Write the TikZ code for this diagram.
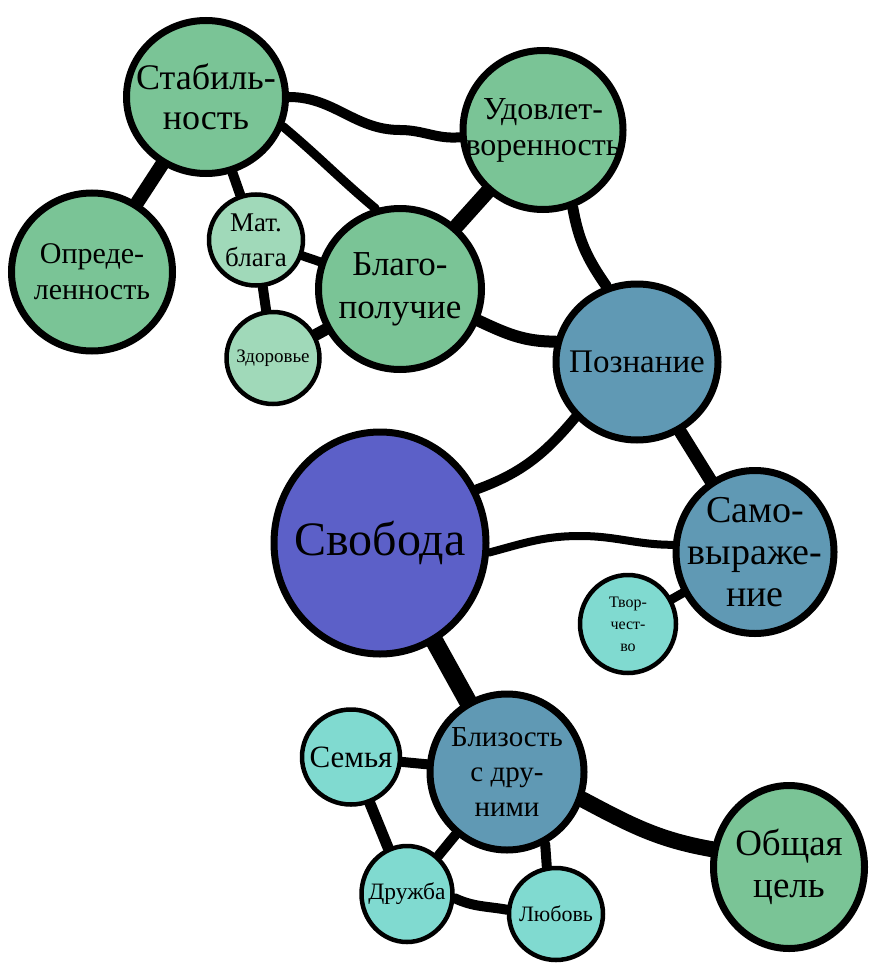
\documentclass[tikz,border=0pt]{standalone}
\usepackage{fontspec}
\setmainfont{Liberation Serif}
\usetikzlibrary{shapes.geometric,backgrounds}

\definecolor{bgreen}{RGB}{122,196,150}
\definecolor{lgreen}{RGB}{160,217,185}
\definecolor{steel}{RGB}{96,153,180}
\definecolor{violet}{RGB}{92,96,200}
\definecolor{aqua}{RGB}{128,218,208}

\tikzset{
  bub/.style={ellipse, draw=black, line width=7pt, inner sep=0pt},
  sbub/.style={bub, line width=4.5pt},
  txt/.style 2 args={align=center, font=\fontsize{#1}{#2}\selectfont},
  link/.style={line width=#1, line cap=round},
  link/.default=10pt
}

\begin{document}
\begin{tikzpicture}[x=1pt,y=1pt]
        \useasboundingbox (0,0) rectangle (869,-963);

        \node[bub, fill=bgreen, minimum width=159, minimum height=153,
              label={[txt={36}{40}]center:Стабиль-\\ность}] (stab) at (206,-97) {};
        \node[bub, fill=bgreen, minimum width=161, minimum height=158,
              label={[txt={30}{36}]center:Опреде-\\ленность}] (opred) at (92,-272) {};
        \node[sbub, fill=lgreen, minimum width=94, minimum height=91,
              label={[txt={27}{35}]center:Мат.\\блага}] (mat) at (256,-240) {};
        \node[bub, fill=bgreen, minimum width=163, minimum height=161,
              label={[txt={35}{43}]center:Благо-\\получие}] (blago) at (400,-289) {};
        \node[sbub, fill=lgreen, minimum width=93, minimum height=92,
              label={[txt={19}{22}]center:Здоровье}] (zdor) at (273,-358) {};
        \node[bub, fill=bgreen, minimum width=160, minimum height=159,
              label={[txt={32}{36}]center:Удовлет-\\воренность}] (udov) at (543,-130) {};
        \node[bub, fill=steel, minimum width=162, minimum height=156,
              label={[txt={33}{36}]center:Познание}] (pozn) at (637,-362) {};
        \node[bub, fill=violet, minimum width=212, minimum height=222,
              label={[txt={48}{52}]center:Свобода}] (svob) at (380,-543) {};
        \node[bub, fill=steel, minimum width=158, minimum height=163,
              label={[txt={38}{42}]center:Само-\\выраже-\\ние}] (samo) at (755,-552) {};
        \node[sbub, fill=aqua, minimum width=96, minimum height=98,
              label={[txt={16}{22}]center:Твор-\\чест-\\во}] (tvor) at (628,-624) {};
        \node[bub, fill=steel, minimum width=154, minimum height=156,
              label={[txt={29}{35}]center:Близость\\с дру-\\ними}] (bliz) at (507,-772) {};
        \node[sbub, fill=aqua, minimum width=98, minimum height=95,
              label={[txt={31}{36}]center:Семья}] (semya) at (351,-757) {};
        \node[sbub, fill=aqua, minimum width=91, minimum height=96,
              label={[txt={23.5}{27}]center:Дружба}] (druzh) at (407,-894) {};
        \node[sbub, fill=aqua, minimum width=94, minimum height=92,
              label={[txt={22}{26}]center:Любовь}] (lyub) at (556,-914) {};
        \node[bub, fill=bgreen, minimum width=151, minimum height=163,
              label={[txt={37}{42}]center:Общая\\цель}] (obsh) at (789,-867) {};

        \begin{scope}[on background layer]
        \draw[link] (stab) to[out=0,in=180] (400,-130) to[out=0,in=185] (udov);
        \draw[link=14pt] (stab) -- (opred);
        \draw[link] (stab) -- (mat);
        \draw[link=9pt] (stab.-21) to[out=-40,in=140] (blago.107);
        \draw[link=9pt] (mat) -- (blago);
        \draw[link] (mat) -- (zdor);
        \draw[link=12pt] (zdor) -- (blago);
        \draw[link=15pt] (blago) -- (udov);
        \draw[link=12pt] (blago.-22) to[out=-25,in=180] (pozn.166);
        \draw[link=11pt] (udov.-69) to[out=-80,in=125] (pozn.112);
        \draw[link] (pozn.-138) to[out=-130,in=20] (svob.29);
        \draw[link=13pt] (pozn) -- (samo);
        \draw[link=8pt] (svob.-5) to[out=15,in=180] (580,-536) to[out=0,in=180] (samo.175);
        \draw[link=9pt] (samo) -- (tvor);
        \draw[link=18pt] (svob) -- (bliz);
        \draw[link] (bliz) -- (semya);
        \draw[link=16pt] (bliz.-20) to[out=-28,in=170] (obsh.167);
        \draw[link=11pt] (semya) -- (druzh);
        \draw[link] (bliz) -- (druzh);
        \draw[link] (bliz.-62) -- (lyub.101);
        \draw[link] (druzh.-5) to[out=-25,in=170] (lyub.175);
        \end{scope}
\end{tikzpicture}
\end{document}
